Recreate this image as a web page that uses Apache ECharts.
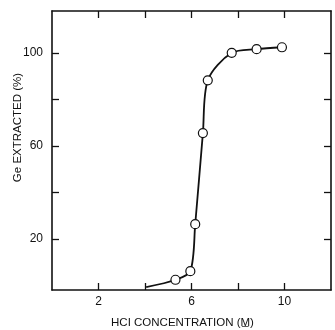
<!DOCTYPE html>
<html>
<head>
<meta charset="utf-8">
<script src="https://cdn.jsdelivr.net/npm/echarts@6/dist/echarts.min.js"></script>
<style>
  html, body { margin: 0; padding: 0; background: #fff; }
  #main { width: 335px; height: 330px; }
</style>
</head>
<body>
<div id="main"></div>
<script>
// HCl concentration (M) vs Ge extracted (%)
const hclConc = [4.05, 5.31, 5.95, 6.16, 6.49, 6.70, 7.73, 8.80, 9.89];
const geExtracted = [-0.8, 2.4, 6.1, 26.3, 65.5, 88.2, 100.0, 101.6, 102.4];
// first point is only where the drawn curve starts, it has no circle
const hasMarker = [false, true, true, true, true, true, true, true, true];

const xTicks = [2, 4, 6, 8, 10];
const xLabels = [2, 6, 10];
const yTicks = [20, 40, 60, 80, 100];
const yLabels = [20, 60, 100];

const ink = '#111';
const font = 'Liberation Sans, Arial, sans-serif';

const points = hclConc.map((x, i) => ({
  value: [x, geExtracted[i]],
  symbolSize: hasMarker[i] ? 9 : 0
}));

let chart = echarts.init(document.getElementById('main'));

const frameAxis = {
  axisLine: { show: true, onZero: false, lineStyle: { color: ink, width: 1.6 } },
  splitLine: { show: false }
};

let option = {
  animation: false,
  grid: { left: 52, right: 4, top: 11, bottom: 40, outerBoundsMode: 'none', containLabel: false },
  xAxis: [
    Object.assign({}, frameAxis, {
      type: 'value',
      min: 0, max: 12,
      name: 'HCI CONCENTRATION (M\u0332)',
      nameLocation: 'middle',
      nameGap: 27,
      nameMoveOverlap: false,
      nameTextStyle: { fontFamily: font, fontSize: 11.5, color: ink, padding: [0, 18, 0, 0] },
      axisTick: { inside: true, length: 7, customValues: xTicks, lineStyle: { color: ink, width: 1.3 } },
      axisLabel: { customValues: xLabels, margin: 6, fontFamily: font, fontSize: 12, color: ink }
    }),
    Object.assign({}, frameAxis, {
      type: 'value', position: 'top',
      min: 0, max: 12,
      axisTick: { inside: true, length: 7, customValues: xTicks, lineStyle: { color: ink, width: 1.3 } },
      axisLabel: { show: false }
    })
  ],
  yAxis: [
    Object.assign({}, frameAxis, {
      type: 'value',
      min: -2, max: 118,
      name: 'Ge EXTRACTED (%)',
      nameLocation: 'middle',
      nameGap: 28,
      nameMoveOverlap: false,
      nameTextStyle: { fontFamily: font, fontSize: 11.5, color: ink, padding: [0, 0, 0, 46] },
      axisTick: { inside: true, length: 7, customValues: yTicks, lineStyle: { color: ink, width: 1.3 } },
      axisLabel: { customValues: yLabels, margin: 9, fontFamily: font, fontSize: 12, color: ink }
    }),
    Object.assign({}, frameAxis, {
      type: 'value', position: 'right',
      min: -2, max: 118,
      axisTick: { inside: true, length: 7, customValues: yTicks, lineStyle: { color: ink, width: 1.3 } },
      axisLabel: { show: false }
    })
  ],
  series: [
    {
      type: 'line',
      data: points,
      smooth: 0.3,
      symbol: 'circle',
      lineStyle: { color: ink, width: 1.8 },
      itemStyle: { color: '#fff', borderColor: ink, borderWidth: 1.2 },
      z: 3
    }
  ]
};
chart.setOption(option);
</script>
</body>
</html>
